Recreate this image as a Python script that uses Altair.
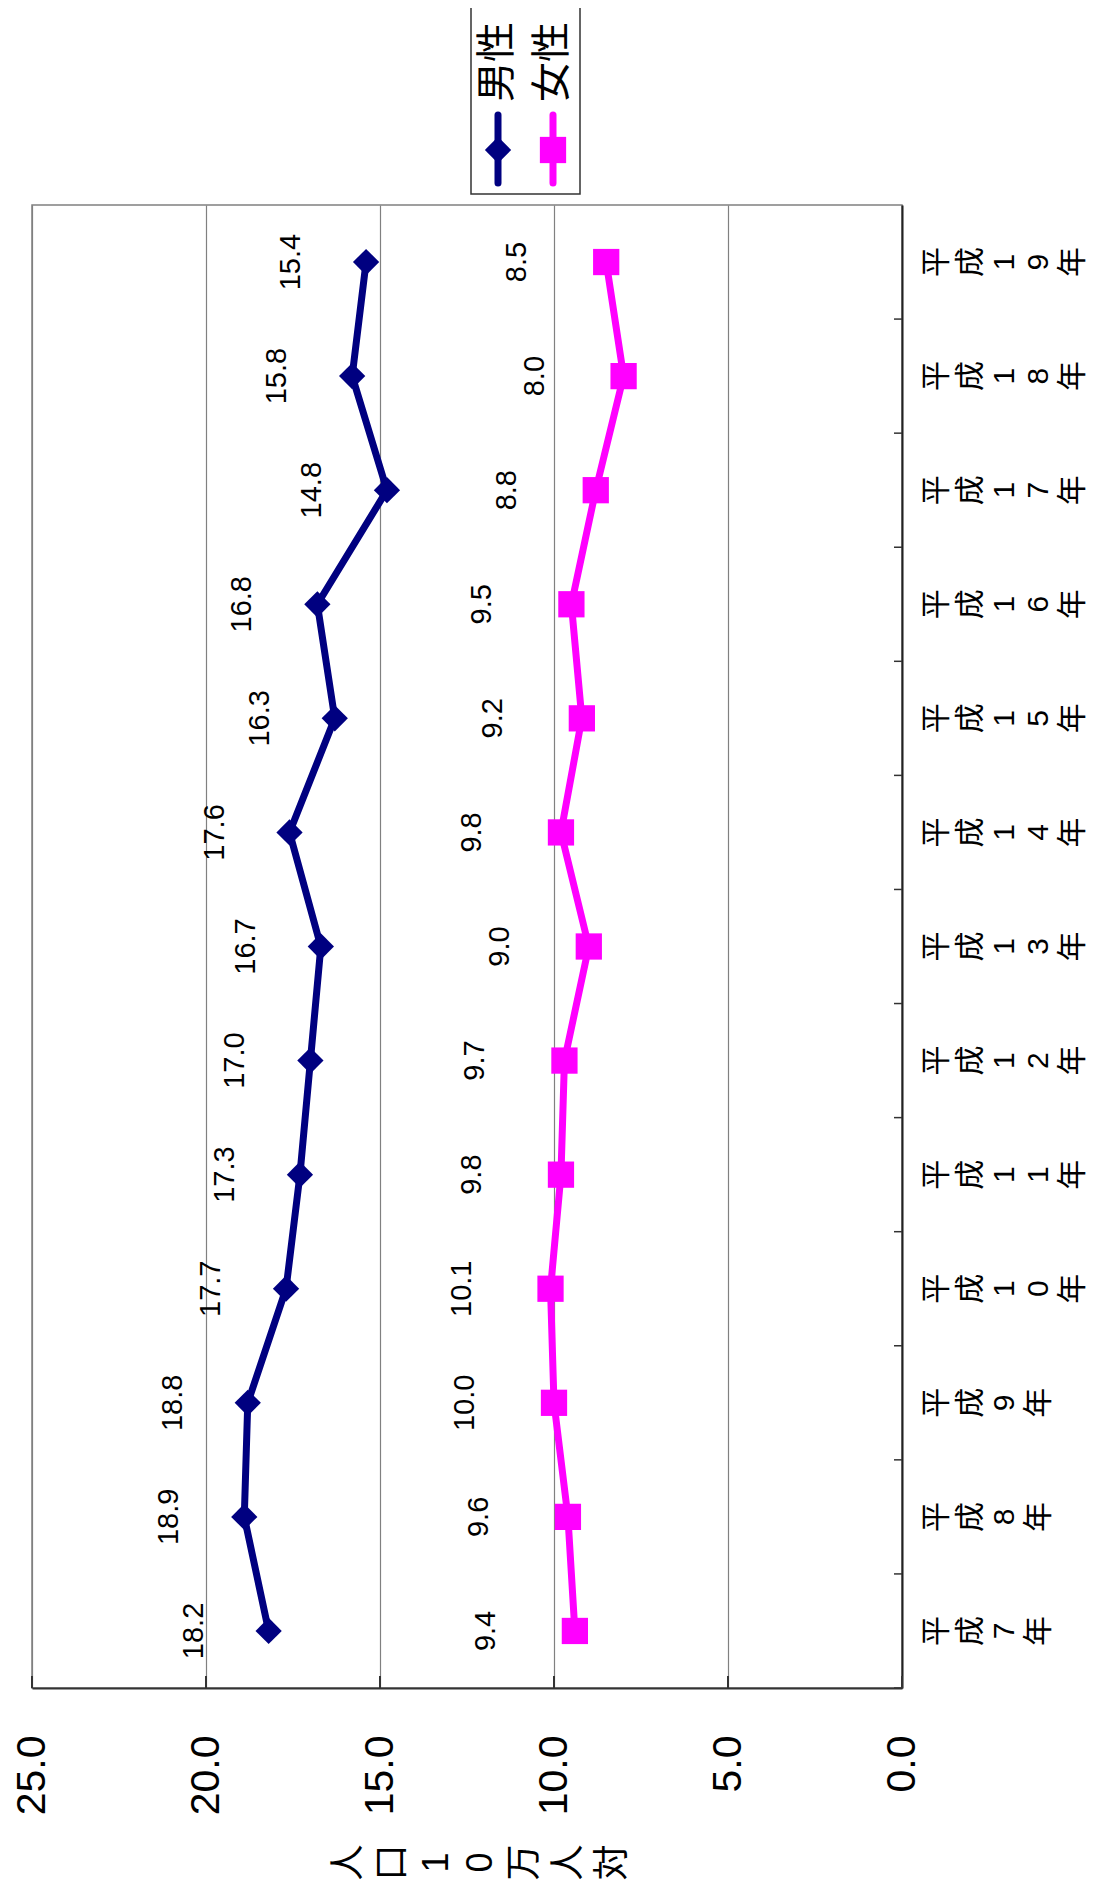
import altair as alt
import pandas as pd

# ---- data ----
years = ["平成7年", "平成8年", "平成9年", "平成10年", "平成11年", "平成12年", "平成13年",
         "平成14年", "平成15年", "平成16年", "平成17年", "平成18年", "平成19年"]
male = [18.2, 18.9, 18.8, 17.7, 17.3, 17.0, 16.7, 17.6, 16.3, 16.8, 14.8, 15.8, 15.4]
female = [9.4, 9.6, 10.0, 10.1, 9.8, 9.7, 9.0, 9.8, 9.2, 9.5, 8.8, 8.0, 8.5]
series = ["男性", "女性"]
colors = ["#000080", "#FF00FF"]
shapes = ["diamond", "square"]
value_ticks = [0, 5, 10, 15, 20, 25]
axis_title = "人口10万人対"

rows = []
for i, yr in enumerate(years):
    rows.append({"year": yr, "sex": series[0], "value": male[i], "idx": i})
    rows.append({"year": yr, "sex": series[1], "value": female[i], "idx": i})
df = pd.DataFrame(rows)

PAD_L = 24
W, H = 870, 1483
FONT = "Liberation Sans, Arial, Noto Sans CJK JP"
STEP = H / len(years)

x_enc = alt.X(
    "value:Q",
    scale=alt.Scale(domain=[0, 25], reverse=True, nice=False, zero=True),
    axis=alt.Axis(
        values=value_ticks, format=".1f", orient="bottom",
        labelAngle=270, labelAlign="right", labelBaseline="middle",
        labelFontSize=41, labelPadding=47, ticks=False,
        labelFont=FONT, labelColor="#000",
        domainColor="#333", domainWidth=2,
        grid=True, gridColor="#808080", gridWidth=1.2,
        title=list(axis_title), titleAngle=270, titleAlign="center",
        titleBaseline="middle", titleFontSize=36, titleLineHeight=44,
        titleFont=FONT, titleFontWeight="normal", titleColor="#000",
        titleX=340 - PAD_L, titleY=174,
    ),
)
y_enc = alt.Y(
    "year:N",
    sort=list(reversed(years)),
    axis=alt.Axis(
        orient="right", title=None, ticks=False, grid=False,
        labelExpr="split(datum.label, '')",
        labelAngle=270, labelAlign="center", labelBaseline="top",
        labelFontSize=30, labelLineHeight=34, labelPadding=19,
        labelFont=FONT, labelColor="#000", labelOverlap=False, labelBound=False,
        domainColor="#222", domainWidth=2,
    ),
)
color_enc = alt.Color("sex:N", scale=alt.Scale(domain=series, range=colors), legend=None)
shape_enc = alt.Shape("sex:N", scale=alt.Scale(domain=series, range=shapes), legend=None)

base = alt.Chart(df)

lines = base.mark_line(strokeWidth=7).encode(
    x=x_enc, y=y_enc, color=color_enc, order=alt.Order("idx:Q"))
points = base.mark_point(filled=True, size=690, opacity=1).encode(
    x=x_enc, y=y_enc, color=color_enc, shape=shape_enc)

male_text = base.transform_filter(alt.datum.sex == series[0]).mark_text(
    angle=270, dy=-75, fontSize=29, font=FONT, align="center", baseline="middle", color="#000"
).encode(x=x_enc, y=y_enc, text=alt.Text("value:Q", format=".1f"))
female_text = base.transform_filter(alt.datum.sex == series[1]).mark_text(
    angle=270, dy=-89, fontSize=29, font=FONT, align="center", baseline="middle", color="#000"
).encode(x=x_enc, y=y_enc, text=alt.Text("value:Q", format=".1f"))

# inward tick marks
vticks = alt.Chart(pd.DataFrame({"value": value_ticks})).mark_rule(
    color="#333", strokeWidth=2).encode(x=x_enc, y=alt.value(H - 12), y2=alt.value(H))
cticks = alt.Chart(pd.DataFrame({"year": years})).mark_rule(
    color="#333", strokeWidth=1.5, yOffset=STEP / 2).encode(
    y=y_enc, x=alt.value(W - 8), x2=alt.value(W))

# custom legend (rotated like the rest of the figure), pixel offsets from plot origin
OX = PAD_L + 8
legend_layers = [
    alt.Chart(pd.DataFrame({"a": [0]})).mark_rect(
        fill="white", stroke="#333", strokeWidth=1.5).encode(
        x=alt.value(471 - OX), x2=alt.value(580 - OX), y=alt.value(-199), y2=alt.value(-11))
]
legend_x = [498 - OX, 553 - OX]
for s, c, sh, lx in zip(series, colors, shapes, legend_x):
    d = pd.DataFrame({"series": [s]})
    legend_layers.append(alt.Chart(d).mark_rule(strokeWidth=7, strokeCap="round", color=c).encode(
        x=alt.value(lx), y=alt.value(-90), y2=alt.value(-22)))
    legend_layers.append(alt.Chart(d).mark_point(shape=sh, filled=True, size=690, opacity=1, color=c).encode(
        x=alt.value(lx), y=alt.value(-55)))
    legend_layers.append(alt.Chart(d).mark_text(
        angle=270, fontSize=40, font=FONT, align="center", baseline="middle", color="#000").encode(
        x=alt.value(lx), y=alt.value(-143), text="series:N"))

chart = alt.layer(
    lines, points, male_text, female_text, vticks, cticks, *legend_layers
).properties(
    width=W, height=H,
    autosize=alt.AutoSizeParams(type="none"),
    padding={"left": PAD_L, "top": 197, "right": 188, "bottom": 192},
    background="white",
).configure_view(stroke="#808080", strokeWidth=1.5)

chart.save("out.html", embed_options={"renderer": "svg", "actions": False})
